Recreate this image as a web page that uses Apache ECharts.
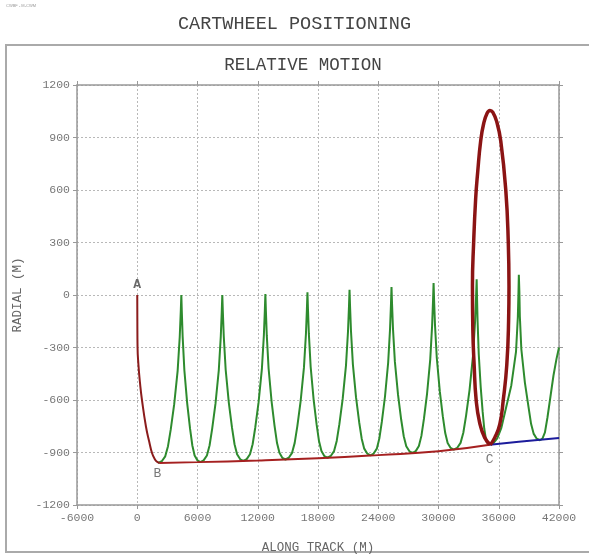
<!DOCTYPE html>
<html>
<head>
<meta charset="utf-8">
<script src="https://cdn.jsdelivr.net/npm/echarts@6/dist/echarts.min.js"></script>
<style>html,body{margin:0;padding:0;background:#fff;}#chart{width:589px;height:556px;}</style>
</head>
<body>
<div id="chart"></div>
<script>
// ---- data ----
var mainTitle = 'CARTWHEEL POSITIONING';
var subTitle = 'RELATIVE MOTION';
var xName = 'ALONG TRACK (M)';
var yName = 'RADIAL (M)';
var xMin = -6000, xMax = 42000, xStep = 6000;
var yMin = -1200, yMax = 1200, yStep = 300;

// A -> B approach (red)
var approachAB = [[0,0],[10,-150],[30,-300],[120,-400],[270,-500],[470,-600],[870,-753],[1200,-840],[1470,-903],[1750,-938],[1970,-953],[2200,-960]];
// B -> C drift line (red)
var driftBC = [[2200,-960],[6000,-955],[12000,-946],[18000,-933],[24000,-915],[30000,-893],[35100,-856]];
// C -> beyond (blue)
var driftAfterC = [[35100,-856],[38000,-839],[42000,-817]];
// large loop at C (dark red)
var loopC = [[35150,-856],[35600,-815],[36100,-740],[36450,-600],[36800,-400],[36980,-150],[37020,50],[36950,300],[36700,600],[36200,880],[35800,990],[35400,1045],[35125,1055],[34850,1040],[34500,980],[34200,880],[33900,700],[33700,550],[33500,300],[33380,50],[33420,-200],[33550,-400],[33750,-600],[34100,-730],[34600,-815],[35150,-856]];
// cartwheel trajectory (green)
var cartwheel = [
[2100,-960],[2443,-950],[2787,-922],[3062,-864],[3337,-768],[3680,-624],[4024,-432],[4230,-240],[4333,-96],[4390,0],
[4437,-95],[4522,-239],[4692,-430],[4976,-621],[5259,-764],[5486,-860],[5713,-917],[5997,-945],[6280,-955],
[6608,-945],[6937,-917],[7200,-860],[7463,-764],[7791,-621],[8120,-430],[8317,-239],[8415,-96],[8470,0],
[8523,-95],[8617,-237],[8806,-427],[9121,-616],[9436,-758],[9688,-853],[9940,-910],[10255,-939],[10570,-948],
[10898,-938],[11227,-910],[11490,-853],[11753,-757],[12081,-614],[12410,-424],[12607,-233],[12705,-90],[12760,5],
[12810,-90],[12900,-231],[13080,-420],[13380,-609],[13680,-751],[13920,-846],[14160,-902],[14460,-931],[14760,-940],
[15088,-930],[15417,-902],[15680,-845],[15943,-749],[16271,-606],[16600,-415],[16797,-224],[16895,-81],[16950,15],
[17000,-80],[17089,-221],[17268,-410],[17567,-599],[17865,-741],[18104,-836],[18343,-892],[18642,-921],[18940,-930],
[19270,-920],[19600,-892],[19864,-834],[20128,-738],[20458,-594],[20788,-402],[20986,-210],[21085,-66],[21140,30],
[21192,-65],[21286,-207],[21474,-396],[21788,-585],[22101,-727],[22352,-821],[22603,-878],[22917,-907],[23230,-916],
[23543,-906],[23857,-878],[24108,-820],[24359,-724],[24672,-580],[24986,-387],[25174,-195],[25268,-51],[25320,45],
[25373,-50],[25467,-192],[25656,-381],[25971,-571],[26286,-713],[26538,-807],[26790,-864],[27105,-893],[27420,-902],
[27733,-892],[28047,-863],[28298,-805],[28549,-708],[28862,-563],[29176,-369],[29364,-175],[29458,-29],[29510,68],
[29560,-27],[29650,-170],[29830,-360],[30130,-551],[30430,-694],[30670,-789],[30910,-846],[31210,-874],[31510,-884],
[31853,-874],[32197,-845],[32472,-787],[32747,-689],[33090,-543],[33434,-348],[33640,-154],[33743,-7],[33800,90],
[33833,-5],[33891,-147],[34008,-337],[34203,-526],[34398,-668],[34554,-763],[34710,-820],[34905,-849],[35100,-858],
[35450,-848],[35850,-819],[36250,-761],[36650,-663],[37250,-517],[37720,-323],[37900,-128],[37965,18],[38000,115],
[38053,20],[38100,-121],[38250,-310],[38600,-499],[38966,-641],[39218,-736],[39470,-792],[39785,-821],[40100,-830],
[40350,-821],[40600,-785],[40850,-700],[41150,-580],[41450,-460],[41750,-365],[42000,-300]
];
// point labels
var pointLabels = [[0,0,'A'],[2100,-960,'B'],[35100,-856,'C']];

// ---- chart ----
var chart = echarts.init(document.getElementById('chart'), null, {renderer:'canvas'});
var mono = 'Liberation Mono, DejaVu Sans Mono, monospace';
var axisGray = '#999';
var labelGray = '#777';
function plain(v){ return String(v); }
function baseX(pos, showLabel){
  return {
    type:'value', position:pos, min:xMin, max:xMax, interval:xStep,
    axisLine:{show:true, onZero:false, lineStyle:{color:axisGray, width:1.5}},
    axisTick:{show:true, length:4, lineStyle:{color:axisGray}},
    axisLabel:{show:showLabel, color:labelGray, fontFamily:mono, fontSize:11.5, margin:7, formatter:plain},
    splitLine:{show:showLabel, lineStyle:{color:'#b8b8b8', type:[2,2], width:1}}
  };
}
function baseY(pos, showLabel){
  return {
    type:'value', position:pos, min:yMin, max:yMax, interval:yStep,
    axisLine:{show:true, onZero:false, lineStyle:{color:axisGray, width:1.5}},
    axisTick:{show:true, length:4, lineStyle:{color:axisGray}},
    axisLabel:{show:showLabel, color:labelGray, fontFamily:mono, fontSize:11.5, margin:7, formatter:plain},
    splitLine:{show:showLabel, lineStyle:{color:'#b8b8b8', type:[2,2], width:1}}
  };
}
var x0 = baseX('bottom', true);
x0.name = xName; x0.nameLocation = 'middle'; x0.nameGap = 36;
x0.nameTextStyle = {color:'#666', fontFamily:mono, fontSize:12.5};
var y0 = baseY('left', true);
y0.name = yName; y0.nameLocation = 'middle'; y0.nameGap = 52; y0.nameRotate = 90;
y0.nameTextStyle = {color:'#666', fontFamily:mono, fontSize:12.5};

var option = {
  backgroundColor:'#fff',
  animation:false,
  title:[
    {text:mainTitle, left:'center', top:10, textStyle:{fontFamily:mono, fontSize:18.5, fontWeight:'normal', color:'#444'}},
    {text:subTitle, left:298, textAlign:'center', top:51, textStyle:{fontFamily:mono, fontSize:17.5, fontWeight:'normal', color:'#444'}}
  ],
  graphic:[
    {type:'rect', shape:{x:6, y:45, width:600, height:507}, style:{fill:'none', stroke:'#aaa', lineWidth:2}, silent:true},
    {type:'text', left:6, top:4, style:{text:'CWBF - M-CWM', font:'4px sans-serif', fill:'#999'}}
  ],
  grid:{left:77, right:30, top:85, bottom:51, containLabel:false, outerBoundsMode:'none'},
  xAxis:[x0, baseX('top', false)],
  yAxis:[y0, baseY('right', false)],
  series:[
    {type:'line', name:'cartwheel', data:cartwheel, showSymbol:false, symbol:'none', clip:true,
     lineStyle:{color:'#2e8b2e', width:2}, z:2},
    {type:'line', name:'approach', data:approachAB, smooth:true, showSymbol:false, symbol:'none',
     lineStyle:{color:'#8b1c1c', width:2}, z:3},
    {type:'line', name:'drift', data:driftBC, smooth:true, showSymbol:false, symbol:'none',
     lineStyle:{color:'#a52020', width:2}, z:3},
    {type:'line', name:'after', data:driftAfterC, showSymbol:false, symbol:'none',
     lineStyle:{color:'#1c1c9c', width:2}, z:3},
    {type:'line', name:'loop', data:loopC, smooth:true, showSymbol:false, symbol:'none',
     lineStyle:{color:'#8b1414', width:3.5}, z:4},
    {type:'scatter', name:'labels', symbolSize:0, z:5,
     data:pointLabels.map(function(p){return {value:[p[0],p[1]], name:p[2]};}),
     label:{show:true, formatter:'{b}', fontFamily:mono, fontSize:13, color:'#555',
       position:'bottom', distance:6}}
  ]
};
// per-point label placement
option.series[5].data[0].label = {position:'top', distance:4, color:'#444', fontWeight:'bold'};
option.series[5].data[1].label = {position:'bottom', offset:[-1,0], distance:4};
option.series[5].data[2].label = {position:'bottom', distance:8};
chart.setOption(option);
</script>
</body>
</html>
